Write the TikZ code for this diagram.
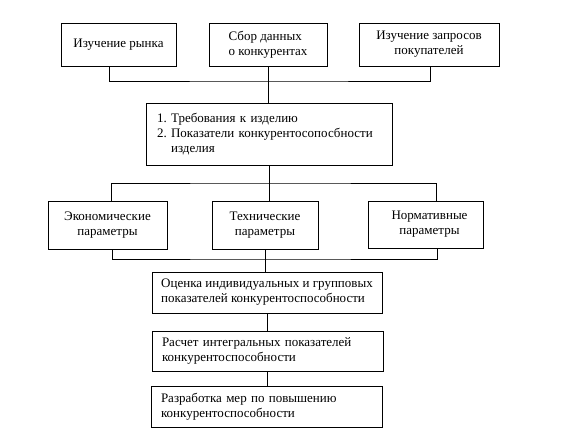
\documentclass[tikz,border=0pt]{standalone}
\usepackage{fontspec}
\setmainfont{Liberation Serif}
\usepackage{tikz}

\tikzset{
  box/.style={draw=black, line width=0.8pt, inner ysep=2pt, inner xsep=4pt,
    font=\fontsize{13}{15}\selectfont},
  textbox/.style={box, align=left, inner xsep=10pt},
  link/.style={line width=0.8pt, black}
}

\begin{document}
\begin{tikzpicture}[x=1pt, y=-1pt]

    \useasboundingbox (0,0) rectangle (567,441);

    % Sources of information
    \node[box, minimum width=115pt, minimum height=43pt, align=center] (mkt) at (118.5,44.5) {Изучение рынка};
    \node[box, minimum width=118pt, minimum height=43pt, align=left] (comp) at (268,44.5) {Сбор данных\\о конкурентах};
    \node[box, minimum width=140pt, minimum height=43pt, align=center] (cust) at (429,44.5) {Изучение запросов\\покупателей};

    % Requirements
    \node[box, align=left, inner xsep=11pt, text width=224pt, minimum height=62pt] (req) at (269,134)
        {1.~Требования к изделию\\2.~Показатели конкурентосопосбности\\\hphantom{2.~}изделия};

    % Groups of parameters
    \node[box, minimum width=119pt, minimum height=48pt, align=center] (econ) at (107.5,225) {Экономические\\параметры};
    \node[box, minimum width=106pt, minimum height=48pt, align=center] (tech) at (265,225) {Технические\\параметры};
    \node[box, minimum width=115pt, minimum height=47pt, align=center] (norm) at (425.5,224.5) {\hspace{8pt}Нормативные\\\hspace{8pt}параметры};

    % Evaluation chain
    \node[box, align=left, minimum width=230pt, minimum height=41pt] (eval) at (267,292.5) {Оценка индивидуальных и групповых\\показателей конкурентоспособности};
    \node[textbox, text width=211pt, minimum height=40pt] (calc) at (267.5,351) {Расчет интегральных показателей\\конкурентоспособности};
    \node[textbox, text width=211pt, minimum height=41pt] (plan) at (266.5,406.5) {Разработка мер по повышению\\конкурентоспособности};

    % Connectors
    \coordinate (bustop) at (268,81);
    \draw[link] ([xshift=-9.5pt]mkt.south) |- (bustop) -| ([xshift=1pt]cust.south);
    \draw[link] (comp.south) -- (comp.south |- req.north);

    \coordinate (busmid) at (267,183);
    \draw[link] ([xshift=3.5pt]econ.north) |- (busmid) -| ([xshift=10.5pt]norm.north);
    \draw[link] (req.south) -- (req.south |- tech.north);

    \coordinate (buslow) at (266,259);
    \draw[link] ([xshift=4.5pt]econ.south) |- (buslow) -| ([xshift=11.5pt]norm.south);
    \draw[link] (tech.south) -- (tech.south |- eval.north);
    \draw[link] (eval.south) -- (eval.south |- calc.north);
    \draw[link] (calc.south) -- (calc.south |- plan.north);

\end{tikzpicture}
\end{document}
